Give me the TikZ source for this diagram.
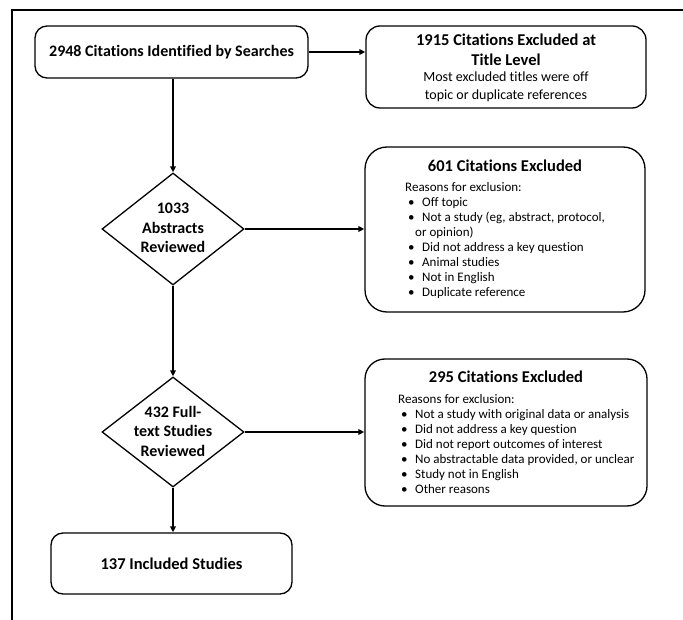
\documentclass[tikz,border=0pt]{standalone}
\usepackage{fontspec}
\setmainfont[Ligatures=NoCommon]{Carlito}
\usetikzlibrary{shapes.geometric,arrows.meta}
\newcommand{\bitem}[1]{\makebox[17pt][l]{\hspace*{3pt}\textbullet}#1}
\begin{document}
\begin{tikzpicture}[x=1pt,y=-1pt,
  box/.style={draw,line width=1.3pt,rounded corners=#1,inner sep=0pt},
  box/.default=12pt,
  dia/.style={draw,diamond,aspect=1.27,line width=1.3pt,inner sep=0pt,
    minimum width=142pt,minimum height=112pt},
  diat/.style={align=center,inner sep=0pt,
    font=\bfseries\fontsize{16}{19.5}\selectfont},
  ttl/.style={font=\bfseries\fontsize{16.5}{20}\selectfont,align=center,inner sep=0pt},
  body/.style={font=\fontsize{13}{15}\selectfont,align=left,inner sep=0pt},
  sub/.style={font=\fontsize{14}{18}\selectfont,align=center,inner sep=0pt},
  arr/.style={line width=1.6pt,-{Triangle[length=6pt,width=5.5pt]}},
  frame/.style={line width=1.4pt}]
\useasboundingbox (0,0) rectangle (683,620);
% frame
\coordinate (fa) at (12,620);
\coordinate (fb) at (12,10);
\coordinate (fc) at (683,10);
\draw[frame] (fa) -- (fb) -- (fc);
% boxes
\node[box=12pt,minimum width=273pt,minimum height=52pt,
  font=\bfseries\fontsize{16}{19}\selectfont] (b1) at (171.5,52)
  {2948 Citations Identified by Searches};
\node[box=14pt,minimum width=280pt,minimum height=82pt] (b2) at (506,67) {};
\node[ttl] (b2t) at (506,50) {1915 Citations Excluded at\\Title Level};
\node[sub] (b2s) at (506,87) {Most excluded titles were off\\topic or duplicate references};
\node[box=22pt,minimum width=280pt,minimum height=165pt] (b3) at (505,229.5) {};
\node[ttl] (b3t) at (505,166) {601 Citations Excluded};
\node[body,anchor=west] (b3l) at (405,240.5) {Reasons for exclusion:\\
  \bitem{Off topic}\\
  \bitem{Not a study (eg, abstract, protocol,}\\
  \hspace*{10pt}or opinion)\\
  \bitem{Did not address a key question}\\
  \bitem{Animal studies}\\
  \bitem{Not in English}\\
  \bitem{Duplicate reference}};
\node[box=20pt,minimum width=282pt,minimum height=147pt] (b4) at (506,432.5) {};
\node[ttl] (b4t) at (506,377) {295 Citations Excluded};
\node[body,anchor=west] (b4l) at (398,444) {Reasons for exclusion:\\
  \bitem{Not a study with original data or analysis}\\
  \bitem{Did not address a key question}\\
  \bitem{Did not report outcomes of interest}\\
  \bitem{No abstractable data provided, or unclear}\\
  \bitem{Study not in English}\\
  \bitem{Other reasons}};
\node[box=12pt,minimum width=241pt,minimum height=61pt,
  font=\bfseries\fontsize{16.5}{19}\selectfont] (b5) at (171.5,563.5)
  {137 Included Studies};
% diamonds
\node[dia] (d1) at (173,229) {};
\node[diat] (d1t) at (173,228) {1033\\Abstracts\\Reviewed};
\node[dia,minimum height=110pt] (d2) at (173,432) {};
\node[diat] (d2t) at (173,431) {432 Full-\\text Studies\\Reviewed};
% connectors
\draw[arr] (b1.east) -- (b1.east -| b2.west);
\draw[arr] (d1.north |- b1.south) -- (d1.north);
\draw[arr] (d1.east) -- (d1.east -| b3.west);
\draw[arr] (d1.south) -- (d2.north);
\draw[arr] (d2.east) -- (d2.east -| b4.west);
\draw[arr] (d2.south) -- (d2.south |- b5.north);
\end{tikzpicture}
\end{document}
